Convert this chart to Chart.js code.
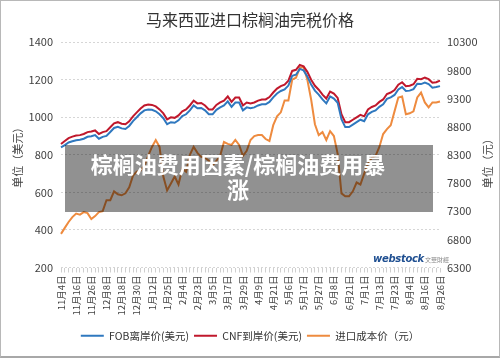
<!DOCTYPE html>
<html><head><meta charset="utf-8">
<script src="https://cdn.jsdelivr.net/npm/chart.js@4.4.0/dist/chart.umd.min.js"></script>
<style>
html,body{margin:0;padding:0;background:#fff;}
#wrap{position:relative;width:500px;height:358px;overflow:hidden;background:#fff;}
#c{position:absolute;left:0;top:0;}
#frame{position:absolute;left:0;top:0;width:500px;height:358px;box-sizing:border-box;border:1px solid #b8b8b8;border-bottom:2px solid #a8a8a8;pointer-events:none;}
#banner{position:absolute;left:65px;top:145px;width:368px;height:67px;background:rgba(0,0,0,0.43);}
#banner div{position:absolute;left:0;top:6px;width:346px;text-align:center;color:#fff;font-family:"Noto Sans CJK SC";font-weight:bold;font-size:22px;line-height:25px;}
#logo{position:absolute;left:373px;top:248px;white-space:nowrap;}
#logo .w{font-family:"DejaVu Sans";font-style:italic;font-weight:bold;font-size:10px;color:#1f4f91;letter-spacing:-0.3px;}
#logo .s{font-family:"Noto Sans CJK SC";font-size:6px;color:#8a8a8a;margin-left:1px;}
</style>
</head><body>
<div id="wrap">
<canvas id="c" width="500" height="358"></canvas>
<div id="logo"><span class="w">webstock</span><span class="s">文華財經</span></div>
<div id="banner"><div>棕榈油费用因素/棕榈油费用暴<br>涨</div></div>
<div id="frame"></div>
</div>
<script>
const tickLabels = ["11月4日","11月16日","11月26日","12月8日","12月18日","12月30日","1月12日","1月25日","2月4日","2月23日","3月5日","3月17日","3月29日","4月9日","4月21日","5月6日","5月17日","5月27日","6月8日","6月21日","7月1日","7月13日","7月23日","8月4日","8月16日","8月26日"];
const pointsPerLabel = 4;

const fobUSD = [840,852,866,872,878,880,886,896,899,905,
886,896,901,922,943,949,941,938,954,980,
1000,1021,1037,1042,1040,1032,1016,995,963,974,
971,984,1006,1016,1037,1063,1048,1050,1037,1016,
1016,1040,1053,1063,1085,1056,1079,1079,1037,1053,
1048,1053,1063,1069,1069,1082,1106,1127,1140,1148,
1169,1221,1227,1258,1250,1218,1174,1142,1121,1095,
1074,1111,1100,1077,990,948,948,961,974,987,
979,1016,1029,1037,1056,1069,1098,1106,1119,1148,
1161,1140,1142,1150,1179,1177,1185,1177,1158,1161,
1166];

const cnfUSD = [858,874,889,897,903,905,911,921,924,930,
911,921,926,947,968,974,966,963,979,1005,
1026,1047,1063,1068,1066,1058,1042,1021,989,1000,
997,1010,1032,1042,1063,1089,1074,1076,1063,1042,
1042,1066,1079,1089,1111,1082,1105,1105,1063,1079,
1074,1079,1089,1095,1095,1108,1132,1153,1166,1174,
1195,1247,1253,1279,1271,1242,1200,1168,1147,1121,
1100,1137,1126,1103,1016,974,974,987,1000,1013,
1005,1042,1055,1063,1082,1095,1124,1132,1145,1174,
1187,1166,1168,1176,1205,1203,1211,1203,1184,1187,
1195];

const importCostCNY = [6897,7003,7108,7195,7257,7239,7283,7266,7160,7213,
7283,7301,7494,7494,7652,7599,7582,7617,7722,7932,
8002,8020,8107,8283,8441,8564,8441,7915,7669,7792,
7915,7774,8055,8002,8300,8441,8336,8265,8248,8195,
8107,8195,8283,8528,8494,8476,8564,8476,8283,8371,
8564,8634,8651,8651,8581,8546,8827,8985,9055,9265,
9265,9634,9669,9844,9861,9634,9283,8844,8651,8704,
8564,8721,8634,8318,7616,7564,7564,7652,7809,7774,
7967,8143,8248,8283,8441,8669,8756,8827,9072,9318,
9335,9020,9037,9072,9318,9405,9230,9142,9230,9230,
9248];

const categories = fobUSD.map((_, i) => i % pointsPerLabel === 0 ? tickLabels[i / pointsPerLabel] : "");

const FONT = '"Noto Sans CJK SC", "Noto Sans", sans-serif';

const rightTitle = {
  id: 'rightTitle',
  afterDraw(chart) {
    const {ctx, chartArea} = chart;
    ctx.save();
    ctx.translate(488, (chartArea.top + chartArea.bottom) / 2 + 6);
    ctx.rotate(-Math.PI / 2);
    ctx.font = '11px ' + FONT;
    ctx.fillStyle = '#444';
    ctx.textAlign = 'center';
    ctx.textBaseline = 'middle';
    ctx.fillText('单位（元）', 0, 0);
    ctx.restore();
  }
};

new Chart(document.getElementById('c'), {
  type: 'line',
  data: {
    labels: categories,
    datasets: [
      {label: 'FOB离岸价(美元)', data: fobUSD, yAxisID: 'y', borderColor: '#2f78bf', backgroundColor: '#2f78bf', borderWidth: 2, pointRadius: 0, tension: 0},
      {label: 'CNF到岸价(美元)', data: cnfUSD, yAxisID: 'y', borderColor: '#c0182c', backgroundColor: '#c0182c', borderWidth: 2, pointRadius: 0, tension: 0},
      {label: '进口成本价（元）', data: importCostCNY, yAxisID: 'y1', borderColor: '#ee8b3f', backgroundColor: '#ee8b3f', borderWidth: 2, pointRadius: 0, tension: 0}
    ]
  },
  options: {
    responsive: false,
    animation: false,
    devicePixelRatio: 1,
    layout: {padding: {left: 0, right: 0, top: 0, bottom: 7}},
    plugins: {
      title: {display: true, text: '马来西亚进口棕榈油完税价格', color: '#333', font: {family: FONT, size: 16, weight: 'normal'}, padding: {top: 10, bottom: 13}},
      legend: {position: 'bottom', labels: {usePointStyle: true, pointStyle: 'line', pointStyleWidth: 23, padding: 5, color: '#333', font: {family: FONT, size: 10.5}}},
      tooltip: {enabled: false}
    },
    scales: {
      x: {
        type: 'category',
        ticks: {autoSkip: false, minRotation: 90, maxRotation: 90, padding: 3, color: '#444', font: {family: FONT, size: 9.5}},
        grid: {display: true, drawOnChartArea: false, drawTicks: true, tickLength: 5, color: '#cfcfcf'},
        border: {display: false},
        afterFit(s) { s.height = 58; }
      },
      y: {
        position: 'left', min: 200, max: 1400,
        ticks: {stepSize: 200, padding: 8, color: '#404040', font: {family: FONT, size: 11}, callback: v => String(v)},
        grid: {color: '#d6d6d6', drawTicks: false},
        border: {display: false, dash: [2, 2]},
        title: {display: true, text: '单位（美元）', color: '#444', font: {family: FONT, size: 11}, padding: {top: 11, bottom: 0}},
        afterFit(s) { s.width = 61; }
      },
      y1: {
        position: 'right', min: 6300, max: 10300,
        ticks: {stepSize: 500, padding: 7, color: '#404040', font: {family: FONT, size: 11}, callback: v => String(v)},
        grid: {drawOnChartArea: false, drawTicks: false},
        border: {display: false},
        afterFit(s) { s.width = 60; }
      }
    }
  },
  plugins: [rightTitle]
});
</script>
</body></html>
